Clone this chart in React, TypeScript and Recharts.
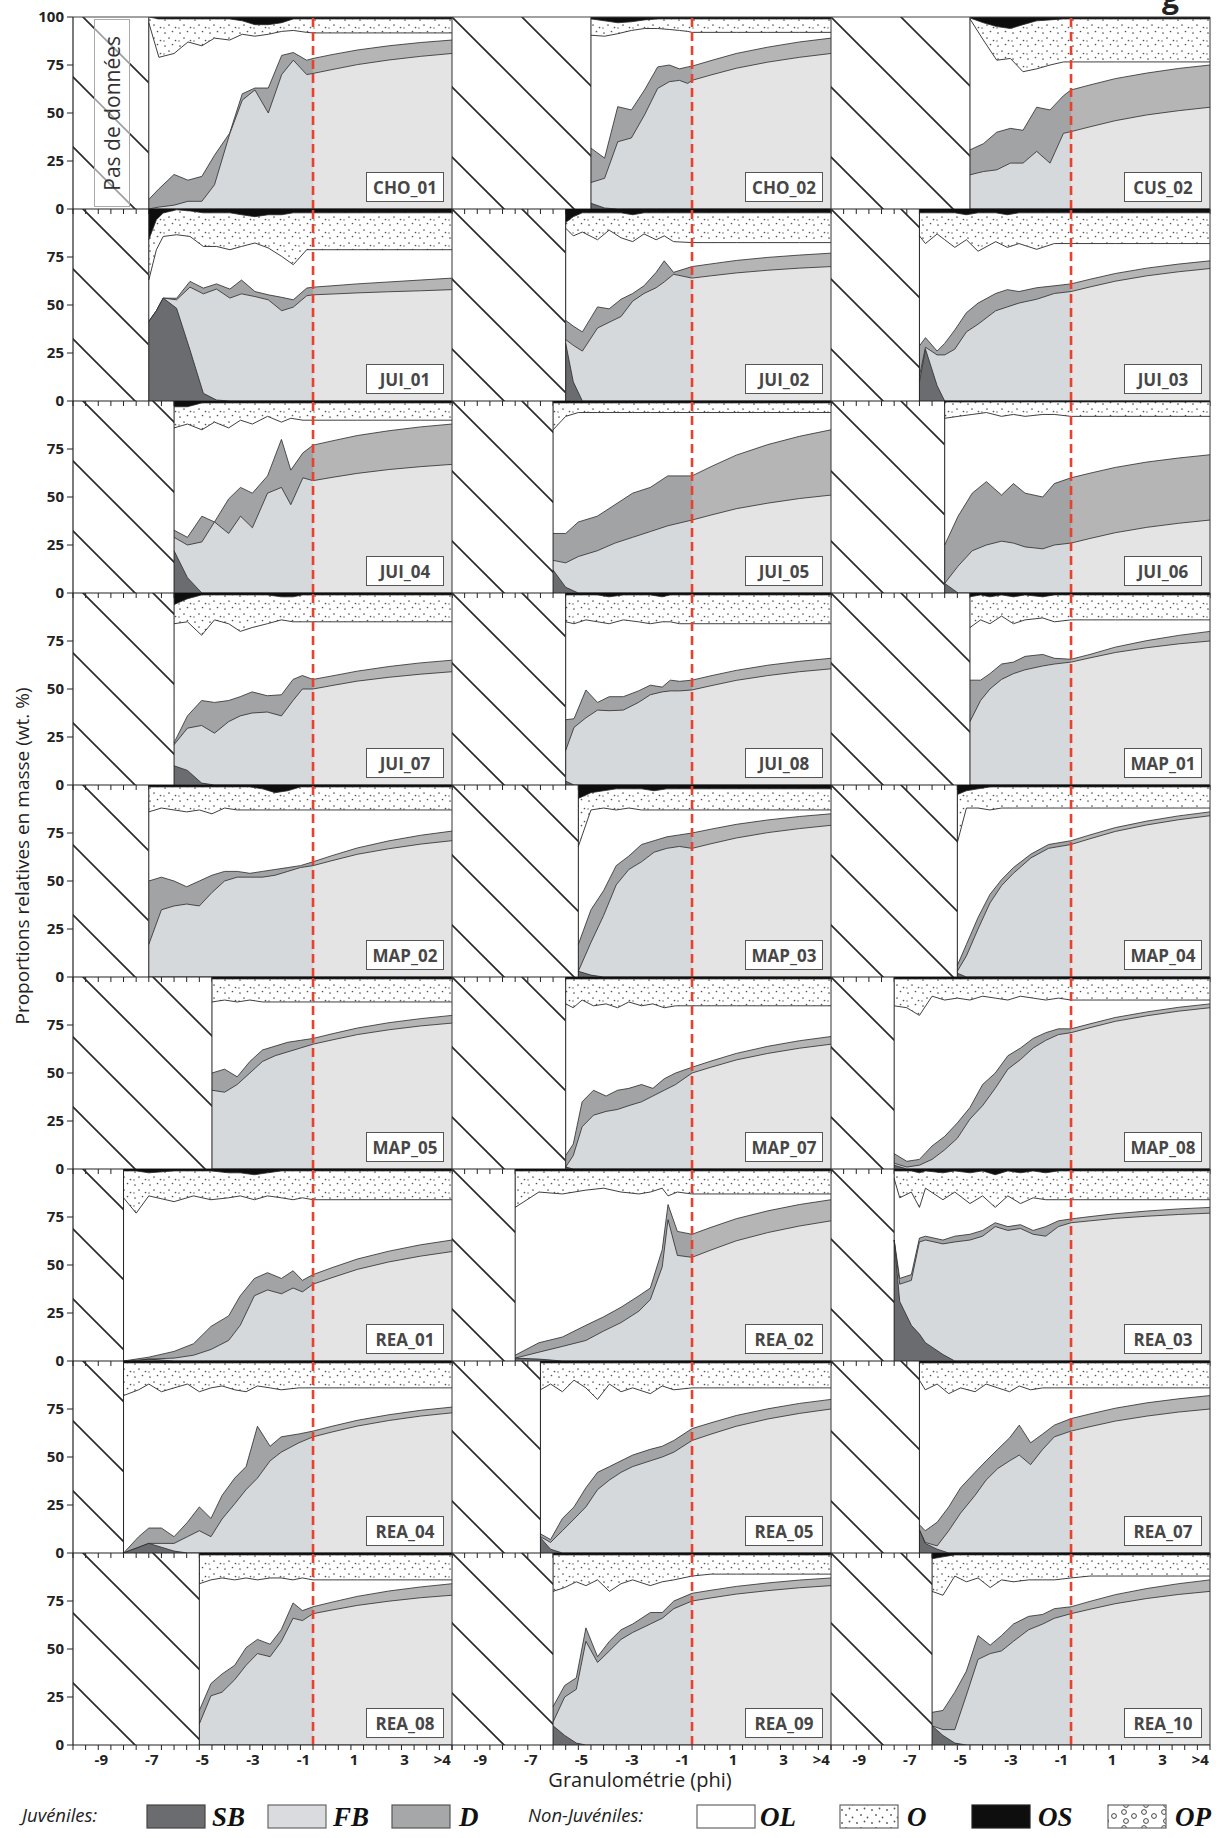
import React from 'react';
import { AreaChart, Area, XAxis, YAxis, ReferenceLine, ReferenceArea } from 'recharts';

type Row = [number, number, number, number, number, number];
// columns: phi, top of SB, top of FB, top of D, top of OL, top of O (OS fills to 100)

const CHO_01: Row[] = [
  [-7, 0, 0, 5, 97, 100], [-6.6, 0, 1, 10.5, 79, 99], [-6, 0, 2, 18, 81, 99], [-5.45, 0, 4, 15, 87, 99],
  [-4.9, 0, 4, 17, 85, 99], [-4.4, 0, 12.6, 28, 89, 99], [-3.8, 0, 39, 39.5, 88, 99], [-3.3, 0, 56.7, 60, 91, 98],
  [-2.8, 0, 62, 63, 90, 96], [-2.27, 0, 50, 63, 91, 96], [-1.74, 0, 70, 80, 92.5, 97], [-1.28, 0, 77.5, 81.5, 93, 99],
  [-0.75, 0, 70, 77.5, 92, 99], [-0.5, 0, 70.6, 78.4, 91.7, 99], [0.25, 0, 72.6, 80.4, 91.7, 99],
  [1.25, 0, 75.2, 82.8, 91.7, 99], [2.5, 0, 77.6, 85, 91.7, 99], [3.75, 0, 79.5, 86.7, 91.7, 99], [5, 0, 81, 88, 91.7, 99],
];
const CHO_02: Row[] = [
  [-4.5, 3, 13.8, 31.7, 90.5, 99], [-3.96, 0.5, 16, 26.5, 90, 98], [-3.44, 0, 35, 53.3, 91.3, 97], [-2.9, 0, 37, 51.6, 93, 97.5],
  [-2.38, 0, 49, 62, 94, 98.5], [-1.86, 0, 62.8, 74, 94, 99], [-1.4, 0, 66.3, 75, 93.5, 99], [-1.0, 0, 67, 73, 93, 99],
  [-0.67, 0, 65.4, 74, 92.5, 99], [-0.5, 0, 67, 74.4, 92, 99], [0.25, 0, 69.8, 77.3, 92, 99], [1.25, 0, 73.3, 81, 92, 99],
  [2.5, 0, 76.5, 84.3, 92, 99], [3.75, 0, 79, 87, 92, 99], [5, 0, 81, 89, 92, 99],
];
const CUS_02: Row[] = [
  [-4.5, 0, 17.8, 30.8, 99, 99.5], [-3.97, 0, 19.5, 34, 88, 97], [-3.44, 0, 20.4, 40, 77.5, 95], [-2.9, 0, 23.9, 42, 78.4, 94],
  [-2.4, 0, 23.9, 41, 71.5, 96], [-1.86, 0, 30, 53, 73, 98], [-1.33, 0, 23.9, 51.6, 75, 98.5], [-0.8, 0, 39.4, 59, 76.6, 99],
  [-0.5, 0, 40.3, 62, 76.6, 99], [0.25, 0, 42.8, 64.6, 76.6, 99], [1.25, 0, 46, 67.9, 76.6, 99], [2.5, 0, 49, 70.8, 76.6, 99],
  [3.75, 0, 51.2, 73.2, 76.6, 99], [5, 0, 53, 75, 76.6, 99],
];
const JUI_01: Row[] = [
  [-7, 41.4, 41.4, 41.4, 63, 84], [-6.7, 47, 47, 47, 78.8, 94.4], [-6.43, 53.6, 53.6, 53.6, 85.7, 97.9],
  [-5.9, 48.3, 52.7, 53.5, 86.6, 99.6], [-5.37, 26.6, 59.3, 62.3, 85.7, 99], [-4.84, 4, 55.8, 58.8, 80.5, 98],
  [-4.32, 0.5, 58.3, 61, 80.5, 98], [-3.79, 0, 53.6, 58.3, 78.8, 98], [-3.33, 0, 55.8, 63, 80.5, 97],
  [-2.8, 0, 54.4, 57, 82.3, 96], [-2.27, 0, 52.7, 55.3, 79.7, 97], [-1.74, 0, 47, 54, 75.3, 97], [-1.28, 0, 48.9, 52.7, 71, 98],
  [-0.75, 0, 54.8, 58.8, 78.8, 98], [-0.5, 0, 55.3, 59.3, 78.8, 98], [0.25, 0, 55.7, 60, 78.8, 98], [1.25, 0, 56.3, 61, 78.8, 98],
  [2.5, 0, 56.9, 62, 78.8, 98], [3.75, 0, 57.4, 63, 78.8, 98], [5, 0, 58, 64, 78.8, 98],
];
const JUI_02: Row[] = [
  [-5.5, 30, 32, 42, 90, 93], [-5.2, 10, 29, 39, 86, 96], [-4.84, 0, 26, 36, 88, 98], [-4.24, 0, 38, 49, 84, 98],
  [-3.78, 0, 41, 48, 89, 98], [-3.31, 0, 44, 53, 85, 98], [-2.85, 0, 52, 56, 83, 97], [-2.4, 0, 56, 60, 87, 98],
  [-1.92, 0, 59, 67, 84, 98], [-1.6, 0, 62, 73, 86, 98], [-1.23, 0, 66, 67, 83, 98], [-0.5, 0, 64, 70, 82.5, 98],
  [0.25, 0, 65.2, 71.4, 82.5, 98], [1.25, 0, 66.7, 73.2, 82.5, 98], [2.5, 0, 68.1, 74.8, 82.5, 98], [3.75, 0, 69.2, 76, 82.5, 98],
  [5, 0, 70, 77, 82.5, 98],
];
const JUI_03: Row[] = [
  [-6.5, 10, 13, 28.7, 86, 98], [-6.26, 27, 28, 33, 82, 98], [-5.8, 8, 24, 26, 87, 98], [-5.5, 0, 24, 30, 84, 98],
  [-5.1, 0, 27, 37, 80, 98], [-4.64, 0, 36, 46, 84, 97], [-4.18, 0, 40, 51, 78, 98], [-3.48, 0, 47, 56, 83, 98],
  [-3.02, 0, 49, 58, 80, 97], [-2.56, 0, 51, 57, 82, 98], [-1.86, 0, 53, 59, 79, 98], [-1.16, 0, 56, 60, 82, 98],
  [-0.5, 0, 57, 61, 82, 98], [0.25, 0, 59.4, 63.4, 82, 98], [1.25, 0, 62.4, 66.4, 82, 98], [2.5, 0, 65.2, 69.2, 82, 98],
  [3.75, 0, 67.3, 71.3, 82, 98], [5, 0, 69, 73, 82, 98],
];
const JUI_04: Row[] = [
  [-6, 22, 29, 32.7, 86, 97], [-5.47, 8, 25, 29, 88, 97], [-4.9, 0, 26.6, 40, 85, 99], [-4.4, 0, 37, 37, 89, 99],
  [-3.84, 0, 31, 49, 86, 99], [-3.37, 0, 40, 55, 90, 99], [-2.9, 0, 34, 52, 88, 99], [-2.3, 0, 52, 61, 92, 99],
  [-1.75, 0, 55, 80, 89, 99], [-1.38, 0, 46, 64, 91, 99], [-0.9, 0, 60, 73, 90, 99], [-0.5, 0, 58.5, 77, 90, 99],
  [0.25, 0, 60.2, 79.2, 90, 99], [1.25, 0, 62.3, 82, 90, 99], [2.5, 0, 64.3, 84.5, 90, 99], [3.75, 0, 65.8, 86.5, 90, 99],
  [5, 0, 67, 88, 90, 99],
];
const JUI_05: Row[] = [
  [-6, 12, 17, 31, 85, 99], [-5.5, 3, 15.7, 31, 92, 99], [-5, 0, 19, 37, 94, 99], [-4.25, 0, 22, 40, 94, 99],
  [-3.55, 0, 26, 46, 94, 99], [-2.85, 0, 29, 52, 94, 99], [-2.15, 0, 32, 55, 94, 99], [-1.46, 0, 35, 61, 94, 99],
  [-0.5, 0, 38, 61, 94, 99], [0.25, 0, 40.6, 65.8, 94, 99], [1.25, 0, 43.9, 71.8, 94, 99], [2.5, 0, 46.8, 77.3, 94, 99],
  [3.75, 0, 49.2, 81.6, 94, 99], [5, 0, 51, 85, 94, 99],
];
const JUI_06: Row[] = [
  [-5.5, 5, 5, 25, 91, 99.5], [-4.97, 0, 14, 40, 92, 99.5], [-4.41, 0, 22, 52, 93, 99.5], [-3.85, 0, 25, 58, 94, 99.5],
  [-3.25, 0, 27, 51, 92, 99.5], [-2.78, 0, 26, 57, 93, 99.5], [-2.32, 0, 24, 52, 92, 99.5], [-1.62, 0, 23, 50, 93, 99.5],
  [-1.16, 0, 25, 57, 93, 99.5], [-0.5, 0, 26, 60, 92, 99.5], [0.25, 0, 28.4, 62.4, 92, 99.5], [1.25, 0, 31.4, 65.4, 92, 99.5],
  [2.5, 0, 34.2, 68.2, 92, 99.5], [3.75, 0, 36.3, 70.3, 92, 99.5], [5, 0, 38, 72, 92, 99.5],
];
const JUI_07: Row[] = [
  [-6, 10, 21, 22, 84, 94], [-5.47, 7.6, 29.6, 36, 85, 97], [-4.91, 1, 31, 44, 78, 99], [-4.4, 0, 27, 43, 86, 99],
  [-3.84, 0, 33, 44, 84, 99], [-3.38, 0, 36, 46, 80, 99], [-2.91, 0, 37.5, 48.5, 82, 99], [-2.31, 0, 38, 46.5, 84, 99],
  [-1.75, 0, 36, 47, 86, 98], [-1.29, 0, 44, 55, 85, 98], [-0.92, 0, 50, 57, 85, 99], [-0.5, 0, 50, 55, 85, 99],
  [0.25, 0, 51.8, 56.8, 85, 99], [1.25, 0, 54.1, 59.3, 85, 99], [2.5, 0, 56.1, 61.7, 85, 99], [3.75, 0, 57.7, 63.6, 85, 99],
  [5, 0, 59, 65, 85, 99],
];
const JUI_08: Row[] = [
  [-5.5, 2, 18, 34, 85, 99], [-5.17, 0, 30, 34.5, 84, 99], [-4.7, 0, 35, 49.5, 86, 99], [-4.24, 0, 39, 43, 85, 99],
  [-3.78, 0, 38.7, 46, 84, 98], [-3.22, 0, 39, 46, 86, 99], [-2.62, 0, 43, 49, 85, 99], [-2.15, 0, 47, 52, 84, 99],
  [-1.68, 0, 48.5, 51, 85, 98], [-1.36, 0, 49, 54.6, 85, 99], [-0.99, 0, 49, 54, 84, 99], [-0.5, 0, 49.5, 54.6, 84, 99],
  [0.25, 0, 51.7, 56.9, 84, 99], [1.25, 0, 54.5, 59.7, 84, 99], [2.5, 0, 57, 62.4, 84, 99], [3.75, 0, 59, 64.4, 84, 99],
  [5, 0, 60.5, 66, 84, 99],
];
const MAP_01: Row[] = [
  [-4.5, 0, 33, 54.6, 82, 98], [-4.08, 0, 44, 54.6, 86, 99], [-3.71, 0, 50, 58, 84, 98], [-3.25, 0, 55, 63, 88, 99],
  [-2.78, 0, 58, 64, 84, 98], [-2.32, 0, 60, 67, 86, 99], [-1.62, 0, 62, 68, 87, 98], [-1.16, 0, 63, 66, 85, 99],
  [-0.5, 0, 64, 65.5, 86, 99], [0.25, 0, 66.2, 68, 86, 99], [1.25, 0, 69, 71.8, 86, 99], [2.5, 0, 71.5, 75.2, 86, 99],
  [3.75, 0, 73.5, 77.9, 86, 99], [5, 0, 75, 80, 86, 99],
];
const MAP_02: Row[] = [
  [-7, 0, 17, 50, 86, 99], [-6.5, 0, 35, 52, 88, 99], [-6, 0, 37, 50, 87, 99], [-5.5, 0, 38, 47, 86, 99],
  [-5, 0, 37, 50, 87, 99], [-4.5, 0, 44, 53, 85, 99], [-4, 0, 50, 55, 88, 99], [-3.5, 0, 52, 55, 87, 99],
  [-3, 0, 52, 54, 87, 99], [-2.5, 0, 52, 55, 87, 98], [-2, 0, 53, 56, 87, 96], [-1.5, 0, 55, 57, 87, 97],
  [-1, 0, 57, 58, 87, 99], [-0.5, 0, 58, 60, 87, 99], [0.25, 0, 60.6, 63.2, 87, 99], [1.25, 0, 63.9, 67.2, 87, 99],
  [2.5, 0, 66.8, 70.9, 87, 99], [3.75, 0, 69.2, 73.8, 87, 99], [5, 0, 71, 76, 87, 99],
];
const MAP_03: Row[] = [
  [-5, 3, 3, 17, 68, 93], [-4.5, 1, 18, 35, 87, 96], [-4, 0, 32, 45, 88, 97], [-3.5, 0, 48, 58, 87, 98],
  [-3, 0, 56, 63, 88, 98], [-2.5, 0, 60, 69, 87, 98], [-2, 0, 65, 71, 87, 97], [-1.5, 0, 67, 73, 87, 98],
  [-1, 0, 68, 74, 87, 98], [-0.5, 0, 67, 75, 87, 98], [0.25, 0, 69.4, 77, 87, 98], [1.25, 0, 72.4, 79.5, 87, 98],
  [2.5, 0, 75.2, 81.8, 87, 98], [3.75, 0, 77.3, 83.6, 87, 98], [5, 0, 79, 85, 87, 98],
];
const MAP_04: Row[] = [
  [-5, 2, 3, 6, 70, 95], [-4.64, 0, 11, 17, 88, 97], [-4.18, 0, 25, 31, 88, 98], [-3.71, 0, 38.5, 43, 87, 99],
  [-3.25, 0, 47.6, 50.7, 88, 99], [-2.78, 0, 54, 57, 88, 99], [-2.09, 0, 62, 64, 88, 99], [-1.39, 0, 67, 69, 88, 99],
  [-0.5, 0, 69, 71, 88, 99], [0.25, 0, 72, 74, 88, 99], [1.25, 0, 75.8, 77.8, 88, 99], [2.5, 0, 79.2, 81.2, 88, 99],
  [3.75, 0, 81.9, 83.9, 88, 99], [5, 0, 84, 86, 88, 99],
];
const MAP_05: Row[] = [
  [-4.5, 0, 41, 50, 87, 99], [-4, 0, 40, 52, 88, 99], [-3.5, 0, 44, 48, 87, 99], [-3, 0, 50, 56, 88, 99],
  [-2.5, 0, 56, 62, 87, 99], [-2, 0, 59, 64, 87, 99], [-1.5, 0, 61, 66, 87, 99], [-1, 0, 63, 67, 87, 99],
  [-0.5, 0, 65, 68, 87, 99], [0.25, 0, 67.2, 70.4, 87, 99], [1.25, 0, 70, 73.4, 87, 99], [2.5, 0, 72.5, 76.2, 87, 99],
  [3.75, 0, 74.5, 78.3, 87, 99], [5, 0, 76, 80, 87, 99],
];
const MAP_07: Row[] = [
  [-5.5, 1, 1, 7, 86, 99], [-5.2, 0, 7, 13, 84, 99], [-4.85, 0, 22, 35, 88, 99], [-4.4, 0, 28, 41, 85, 99],
  [-3.9, 0, 30, 38, 86, 99], [-3.45, 0, 31, 41, 84, 99], [-3, 0, 33, 42, 87, 99], [-2.5, 0, 35, 44, 85, 99],
  [-2.05, 0, 38, 42, 86, 99], [-1.6, 0, 41, 47, 84, 99], [-1.15, 0, 44, 50, 85, 99], [-0.5, 0, 50, 53, 85, 99],
  [0.25, 0, 53, 56.2, 85, 99], [1.25, 0, 56.8, 60.2, 85, 99], [2.5, 0, 60.2, 63.9, 85, 99], [3.75, 0, 62.9, 66.8, 85, 99],
  [5, 0, 65, 69, 85, 99],
];
const MAP_08: Row[] = [
  [-7.5, 2, 3, 8, 85, 99], [-7, 0, 1, 4, 84, 99], [-6.5, 0, 2, 5, 80, 99], [-6, 0, 5, 12, 90, 99],
  [-5.5, 0, 10, 17, 88, 99], [-5, 0, 16, 24, 89, 99], [-4.5, 0, 26, 32, 88, 99], [-4, 0, 33, 44, 90, 99],
  [-3.5, 0, 42, 50, 89, 99], [-3, 0, 52, 59, 88, 99], [-2.5, 0, 57, 63, 90, 99], [-2, 0, 63, 68, 89, 99],
  [-1.5, 0, 67, 71, 88, 99], [-1, 0, 70, 73, 89, 99], [-0.5, 0, 71, 73, 88, 99], [0.25, 0, 73.6, 75.6, 88, 99],
  [1.25, 0, 76.9, 78.9, 88, 99], [2.5, 0, 79.8, 81.8, 88, 99], [3.75, 0, 82.2, 84.2, 88, 99], [5, 0, 84, 86, 88, 99],
];
const REA_01: Row[] = [
  [-8, 0, 0, 0, 85, 99], [-7.5, 0, 0.3, 1, 77, 99], [-7, 1, 1, 2, 86, 98], [-6, 0, 1.5, 5, 83, 99],
  [-5.23, 0, 3, 9, 86, 99], [-4.54, 0, 6, 18, 84, 99], [-3.84, 0, 10.7, 23.5, 85, 98], [-3.38, 0, 18.6, 34, 86, 98],
  [-2.82, 0, 34, 43, 84, 97], [-2.3, 0, 37, 46, 86, 98], [-1.75, 0, 35, 43, 85, 99], [-1.29, 0, 38, 47, 84, 99],
  [-0.92, 0, 36, 42, 85, 99], [-0.5, 0, 40, 45, 84, 99], [0.25, 0, 43.4, 48.6, 84, 99], [1.25, 0, 47.7, 53.1, 84, 99],
  [2.5, 0, 51.6, 57.2, 84, 99], [3.75, 0, 54.6, 60.5, 84, 99], [5, 0, 57, 63, 84, 99],
];
const REA_02: Row[] = [
  [-7.5, 1.5, 1.5, 3, 80, 99], [-6.56, 1, 4.6, 9.5, 88, 99], [-5.63, 0, 7.6, 12.5, 87, 99], [-4.7, 0, 10.7, 18.6, 89, 99],
  [-4, 0, 15.6, 23, 90, 99], [-3.31, 0, 20, 28, 88, 99], [-2.6, 0, 26, 34, 87, 99], [-2.15, 0, 32, 38, 88, 99],
  [-1.68, 0, 49, 58, 90, 99], [-1.45, 0, 73.6, 81.5, 86, 99], [-1.08, 0, 55, 67.5, 88, 99], [-0.5, 0, 54, 66, 87, 99],
  [0.25, 0, 57.8, 69.6, 87, 99], [1.25, 0, 62.6, 74.1, 87, 99], [2.5, 0, 66.9, 78.2, 87, 99], [3.75, 0, 70.3, 81.5, 87, 99],
  [5, 0, 73, 84, 87, 99],
];
const REA_03: Row[] = [
  [-7.5, 63, 63, 63, 95, 99], [-7.28, 31, 40, 43, 85, 99], [-6.82, 18.6, 42, 45, 88, 99], [-6.5, 14, 62, 64, 80, 98],
  [-6.26, 9.5, 63, 65, 90, 99], [-5.57, 3.4, 61, 63, 84, 98], [-5.1, 0, 62, 65, 88, 99], [-4.5, 0, 63, 66, 82, 98],
  [-4, 0, 65, 68, 86, 99], [-3.5, 0, 70, 72, 80, 97], [-3, 0, 68, 70, 86, 99], [-2.5, 0, 69, 71, 82, 98],
  [-2, 0, 66, 68, 85, 99], [-1.5, 0, 65, 70, 84, 98], [-1, 0, 70, 73, 84, 99], [-0.5, 0, 72, 74, 84, 99],
  [0.25, 0, 73, 75.2, 84, 99], [1.25, 0, 74.3, 76.7, 84, 99], [2.5, 0, 75.4, 78.1, 84, 99], [3.75, 0, 76.3, 79.2, 84, 99],
  [5, 0, 77, 80, 84, 99],
];
const REA_04: Row[] = [
  [-8, 0, 0, 0, 82, 99], [-7.4, 3, 3, 8.5, 85, 99], [-7, 5, 5, 13, 88, 99], [-6.5, 3, 5, 13, 84, 99],
  [-6, 1, 5, 8.5, 86, 99], [-5.47, 0, 8.5, 16, 88, 99], [-5, 0, 11.6, 24, 84, 99], [-4.54, 0, 8.5, 18, 86, 99],
  [-4.1, 0, 17.7, 30, 87, 99], [-3.6, 0, 25.6, 39, 85, 99], [-3.15, 0, 33, 45, 84, 99], [-2.7, 0, 39, 66, 87, 99],
  [-2.2, 0, 48, 55.6, 86, 99], [-1.76, 0, 52.5, 60.5, 85, 99], [-1.06, 0, 57.4, 62, 86, 99], [-0.5, 0, 60.5, 63.5, 86, 99],
  [0.25, 0, 63, 66, 86, 99], [1.25, 0, 66.1, 69.1, 86, 99], [2.5, 0, 69, 72, 86, 99], [3.75, 0, 71.3, 74.3, 86, 99],
  [5, 0, 73, 76, 86, 99],
];
const REA_05: Row[] = [
  [-6.5, 8, 8.5, 10, 85, 99], [-6.1, 2, 5.5, 7, 88, 99], [-5.63, 0, 11.6, 18, 84, 99], [-5.17, 0, 17.7, 24, 90, 99],
  [-4.7, 0, 24, 34, 86, 99], [-4.24, 0, 33, 42, 80, 99], [-3.77, 0, 38, 45, 88, 99], [-3.31, 0, 42, 48, 84, 99],
  [-2.85, 0, 45, 51, 86, 99], [-2.15, 0, 48, 54, 83, 99], [-1.68, 0, 50, 55.6, 87, 99], [-1.22, 0, 52.5, 58.6, 85, 99],
  [-0.5, 0, 58.6, 64.8, 86, 99], [0.25, 0, 61.9, 67.8, 86, 99], [1.25, 0, 66, 71.6, 86, 99], [2.5, 0, 69.8, 75.1, 86, 99],
  [3.75, 0, 72.7, 77.9, 86, 99], [5, 0, 75, 80, 86, 99],
];
const REA_07: Row[] = [
  [-6.5, 12, 12, 14.7, 90, 99], [-6.27, 5, 5.5, 11.6, 85, 99], [-5.8, 2, 3.7, 16, 88, 99], [-5.34, 0, 11.6, 24, 83, 99],
  [-4.87, 0, 20.8, 34, 86, 99], [-4.3, 0, 30, 42, 84, 99], [-3.86, 0, 38, 48, 88, 99], [-3.4, 0, 44, 54, 86, 99],
  [-2.93, 0, 48, 60, 84, 99], [-2.55, 0, 51, 66.6, 87, 99], [-2.1, 0, 46, 57.4, 85, 99], [-1.62, 0, 54, 62, 86, 99],
  [-1.16, 0, 60.5, 66.6, 86, 99], [-0.5, 0, 63.5, 70, 86, 99], [0.25, 0, 65.8, 72.4, 86, 99], [1.25, 0, 68.7, 75.4, 86, 99],
  [2.5, 0, 71.3, 78.2, 86, 99], [3.75, 0, 73.4, 80.3, 86, 99], [5, 0, 75, 82, 86, 99],
];
const REA_08: Row[] = [
  [-5, 0, 11, 18, 84, 99], [-4.54, 0, 25.6, 32, 86, 99], [-4.1, 0, 27.5, 37, 87, 99], [-3.6, 0, 34, 41.5, 86, 99],
  [-3.15, 0, 41.5, 50.7, 87, 99], [-2.7, 0, 47.6, 55, 86, 99], [-2.2, 0, 46, 52.5, 87, 99], [-1.76, 0, 53.8, 60, 87, 99],
  [-1.29, 0, 66, 74, 86, 99], [-0.92, 0, 64.8, 70, 87, 99], [-0.5, 0, 68.4, 72, 86, 99], [0.25, 0, 70.3, 74.4, 86, 99],
  [1.25, 0, 72.7, 77.4, 86, 99], [2.5, 0, 74.9, 80.2, 86, 99], [3.75, 0, 76.7, 82.3, 86, 99], [5, 0, 78, 84, 86, 99],
];
const REA_09: Row[] = [
  [-6, 10, 12, 20, 80, 99], [-5.54, 5, 25, 31, 82, 99], [-5.08, 1, 29, 35, 85, 99], [-4.7, 0, 54, 61, 83, 99],
  [-4.24, 0, 43, 46, 86, 99], [-3.77, 0, 49, 54, 80, 99], [-3.31, 0, 55, 60, 84, 99], [-2.85, 0, 58.6, 63, 86, 99],
  [-2.15, 0, 63, 69, 83, 99], [-1.68, 0, 66, 69, 85, 99], [-1.22, 0, 71, 75, 86, 99], [-0.5, 0, 75, 79, 88, 99],
  [0.25, 0, 76.6, 80.6, 89, 99], [1.25, 0, 78.6, 82.6, 89, 99], [2.5, 0, 80.4, 84.4, 89, 99], [3.75, 0, 81.9, 85.9, 89, 99],
  [5, 0, 83, 87, 89, 99],
];
const REA_10: Row[] = [
  [-6, 10, 10, 17, 80, 97], [-5.57, 5, 8, 18, 78, 98], [-5.1, 1, 8, 27.5, 88, 99], [-4.64, 0, 26, 38.5, 85, 99],
  [-4.18, 0, 44.6, 57, 87, 99], [-3.7, 0, 47.6, 52, 82, 99], [-3.25, 0, 49, 57, 86, 99], [-2.78, 0, 54, 63, 85, 99],
  [-2.18, 0, 60, 67, 86, 99], [-1.62, 0, 63, 68, 86, 99], [-1.16, 0, 66, 71, 86, 99], [-0.5, 0, 68.4, 72, 87, 99],
  [0.25, 0, 70.7, 74.8, 88, 99], [1.25, 0, 73.6, 78.3, 88, 99], [2.5, 0, 76.3, 81.5, 88, 99], [3.75, 0, 78.4, 84, 88, 99],
  [5, 0, 80, 86, 88, 99],
];

const PANELS: [string, Row[]][] = [
  ['CHO_01', CHO_01], ['CHO_02', CHO_02], ['CUS_02', CUS_02],
  ['JUI_01', JUI_01], ['JUI_02', JUI_02], ['JUI_03', JUI_03],
  ['JUI_04', JUI_04], ['JUI_05', JUI_05], ['JUI_06', JUI_06],
  ['JUI_07', JUI_07], ['JUI_08', JUI_08], ['MAP_01', MAP_01],
  ['MAP_02', MAP_02], ['MAP_03', MAP_03], ['MAP_04', MAP_04],
  ['MAP_05', MAP_05], ['MAP_07', MAP_07], ['MAP_08', MAP_08],
  ['REA_01', REA_01], ['REA_02', REA_02], ['REA_03', REA_03],
  ['REA_04', REA_04], ['REA_05', REA_05], ['REA_07', REA_07],
  ['REA_08', REA_08], ['REA_09', REA_09], ['REA_10', REA_10],
];

const X_TICKS = [-10, -9.5, -9, -8.5, -8, -7.5, -7, -6.5, -6, -5.5, -5, -4.5, -4, -3.5, -3, -2.5, -2, -1.5, -1, -0.5,
  0, 0.5, 1, 1.5, 2, 2.5, 3, 3.5, 4, 4.5, 5];
const X_LABELS: Record<string, string> = { '-9': '-9', '-7': '-7', '-5': '-5', '-3': '-3', '-1': '-1', '1': '1', '3': '3', '4.5': '>4' };
const Y_TICKS_TOP = [0, 25, 50, 75, 100];
const Y_TICKS = [0, 25, 50, 75];
const RED_PHI = -0.5;
const X_MIN = -10;
const X_MAX = 5;

const COL_X = [73, 452, 831];
const PW = 379;
const PH = 192;
const ROW_Y0 = 17;
const FONT = '"Open Sans", "DejaVu Sans", sans-serif';

const C_SB = '#6b6c6f';
const C_FB_L = '#d6d9dc';
const C_FB_R = '#e4e4e4';
const C_D_L = '#a2a3a5';
const C_D_R = '#b5b5b5';
const C_OS = '#0e0e0e';
const LINE = '#2a2a2a';

const NoTick = () => <g />;
const XTick = (props: any) => {
  const { x, y, payload } = props;
  const lab = X_LABELS[String(payload.value)];
  if (!lab) return <g />;
  return (
    <text x={x + 3} y={y} dy="0.75em" textAnchor="middle" fontSize={15} fontWeight={700} fill="#222" fontFamily={FONT}>
      {lab}
    </text>
  );
};

function Patterns({ id, w, off }: { id: string; w: number; off: number }) {
  return (
    <defs>
      <pattern id={`hatch-${id}`} width={70} height={70} patternUnits="userSpaceOnUse">
        <line x1={0} y1={0} x2={70} y2={70} stroke="#2b2b2b" strokeWidth={1.7} />
        <line x1={60} y1={-10} x2={80} y2={10} stroke="#2b2b2b" strokeWidth={1.7} />
        <line x1={-10} y1={60} x2={10} y2={80} stroke="#2b2b2b" strokeWidth={1.7} />
      </pattern>
      <pattern id={`dots-${id}`} width={15} height={13} patternUnits="userSpaceOnUse">
        <rect width={15} height={13} fill="#fff" />
        <circle cx={2} cy={3} r={0.85} fill="#555" />
        <circle cx={9.5} cy={1.5} r={0.85} fill="#555" />
        <circle cx={6} cy={8} r={0.85} fill="#555" />
        <circle cx={12.5} cy={10.5} r={0.85} fill="#555" />
        <circle cx={1} cy={11} r={0.7} fill="#555" />
      </pattern>
      <linearGradient id={`fb-${id}`} gradientUnits="userSpaceOnUse" x1={0} y1={0} x2={w} y2={0}>
        <stop offset={0} stopColor={C_FB_L} />
        <stop offset={off} stopColor={C_FB_L} />
        <stop offset={off} stopColor={C_FB_R} />
        <stop offset={1} stopColor={C_FB_R} />
      </linearGradient>
      <linearGradient id={`d-${id}`} gradientUnits="userSpaceOnUse" x1={0} y1={0} x2={w} y2={0}>
        <stop offset={0} stopColor={C_D_L} />
        <stop offset={off} stopColor={C_D_L} />
        <stop offset={off} stopColor={C_D_R} />
        <stop offset={1} stopColor={C_D_R} />
      </linearGradient>
    </defs>
  );
}

function Panel({ name, rows, col, row }: { name: string; rows: Row[]; col: number; row: number }) {
  const isLeft = col === 0;
  const isBottom = row === 8;
  const yW = isLeft ? 60 : 0;
  const xH = isBottom ? 34 : 6;
  const w = PW + yW;
  const h = PH + xH;
  const data = rows.map((r) => ({ x: r[0], sb: r[1], fb: r[2], d: r[3], ol: r[4], o: r[5], os: 100 }));
  const start = rows[0][0];
  const redPx = yW + ((RED_PHI - X_MIN) / (X_MAX - X_MIN)) * PW;
  const off = redPx / w;
  const id = name;
  const areaCommon = {
    yAxisId: 'l',
    type: 'linear' as const,
    isAnimationActive: false,
    dot: false,
    activeDot: false,
    baseValue: 0,
    fillOpacity: 1,
  };
  return (
    <div style={{ position: 'absolute', left: COL_X[col] - yW, top: ROW_Y0 + row * PH, width: w, height: h }}>
      <AreaChart width={w} height={h} data={data} margin={{ top: 0, right: 0, bottom: 0, left: 0 }}>
        <Patterns id={id} w={w} off={off} />
        <XAxis
          dataKey="x"
          type="number"
          domain={[X_MIN, X_MAX]}
          ticks={X_TICKS}
          interval={0}
          tickSize={5}
          tickMargin={4}
          height={xH}
          tick={isBottom ? XTick : NoTick}
          axisLine={{ stroke: '#222', strokeWidth: 1.2 }}
          tickLine={{ stroke: '#222' }}
          allowDataOverflow
        />
        <YAxis
          yAxisId="l"
          hide={!isLeft}
          width={yW}
          domain={[0, 100]}
          ticks={row === 0 ? Y_TICKS_TOP : Y_TICKS}
          interval={0}
          tickSize={6}
          tickMargin={3}
          tick={{ fontSize: 15, fontWeight: 700, fill: '#222', fontFamily: FONT }}
          axisLine={{ stroke: '#222', strokeWidth: 1.2 }}
          tickLine={{ stroke: '#222' }}
          allowDataOverflow
        />
        <YAxis
          yAxisId="r"
          orientation="right"
          mirror
          domain={[0, 100]}
          ticks={[25, 50, 75]}
          interval={0}
          tickSize={5}
          tick={NoTick}
          axisLine={{ stroke: '#333', strokeWidth: 1 }}
          tickLine={{ stroke: '#333' }}
        />
        <ReferenceArea yAxisId="l" x1={X_MIN} x2={start} y1={0} y2={100} fill={`url(#hatch-${id})`} fillOpacity={1} stroke="none" />
        <Area {...areaCommon} dataKey="os" fill={C_OS} stroke="none" />
        <Area {...areaCommon} dataKey="o" fill={`url(#dots-${id})`} stroke={LINE} strokeWidth={0.8} />
        <Area {...areaCommon} dataKey="ol" fill="#ffffff" stroke={LINE} strokeWidth={0.9} />
        <Area {...areaCommon} dataKey="d" fill={`url(#d-${id})`} stroke={LINE} strokeWidth={0.8} />
        <Area {...areaCommon} dataKey="fb" fill={`url(#fb-${id})`} stroke={LINE} strokeWidth={0.8} />
        <Area {...areaCommon} dataKey="sb" fill={C_SB} stroke={LINE} strokeWidth={0.8} />
        <ReferenceLine yAxisId="l" x={start} stroke="#222" strokeWidth={1} />
        <ReferenceLine yAxisId="l" x={RED_PHI} stroke="#e8412c" strokeWidth={2.6} strokeDasharray="9 5" />
        {row === 0 && <ReferenceLine yAxisId="l" y={100} stroke="#444" strokeWidth={1.2} />}
      </AreaChart>
      {name === 'CHO_01' && (
        <div
          style={{
            position: 'absolute', left: yW + 21, top: 2, width: 36, height: 188, boxSizing: 'border-box',
            border: '1px solid #aaa', background: 'rgba(255,255,255,0.55)', display: 'flex',
            alignItems: 'center', justifyContent: 'center',
          }}
        >
          <span style={{ writingMode: 'vertical-rl', transform: 'rotate(180deg)', fontFamily: FONT, fontSize: 21, color: '#333', whiteSpace: 'nowrap' }}>
            Pas de données
          </span>
        </div>
      )}
      <div
        style={{
          position: 'absolute', left: yW + PW - 8 - 78, top: PH - 7 - 30, width: 78, height: 30, boxSizing: 'border-box',
          border: '1.5px solid #555', background: '#fff', display: 'flex', alignItems: 'center', justifyContent: 'center',
          fontFamily: FONT, fontWeight: 700, fontSize: 17, color: '#474747',
        }}
      >
        {name}
      </div>
    </div>
  );
}

function Overlay() {
  const ly = 1790;
  const sw = (x: number, fill: string, stroke: string) => (
    <rect x={x} y={ly + 15} width={58} height={23} fill={fill} stroke={stroke} strokeWidth={1.2} />
  );
  const lab = (x: number, t: string) => (
    <text x={x} y={ly + 36} fontFamily='"Liberation Serif", serif' fontStyle="italic" fontWeight={700} fontSize={27} fill="#111">{t}</text>
  );
  return (
    <svg width={1223} height={1838} style={{ position: 'absolute', left: 0, top: 0 }}>
      <defs>
        <pattern id="lg-dots" width={15} height={13} patternUnits="userSpaceOnUse">
          <rect width={15} height={13} fill="#fff" />
          <circle cx={2} cy={3} r={0.9} fill="#555" />
          <circle cx={9.5} cy={1.5} r={0.9} fill="#555" />
          <circle cx={6} cy={8} r={0.9} fill="#555" />
          <circle cx={12.5} cy={10.5} r={0.9} fill="#555" />
        </pattern>
        <pattern id="lg-circ" width={20} height={16} patternUnits="userSpaceOnUse">
          <rect width={20} height={16} fill="#fff" />
          <circle cx={4} cy={4} r={2.4} fill="none" stroke="#444" strokeWidth={1} />
          <circle cx={14} cy={8} r={2.4} fill="none" stroke="#444" strokeWidth={1} />
          <circle cx={6} cy={13} r={2.4} fill="none" stroke="#444" strokeWidth={1} />
        </pattern>
      </defs>
      <text x={1162} y={8} fontFamily={FONT} fontWeight={700} fontSize={30} fill="#222">g</text>
      <text
        transform="translate(22,856) rotate(-90)"
        textAnchor="middle"
        dominantBaseline="central"
        fontFamily={FONT}
        fontSize={19}
        fill="#222"
      >
        Proportions relatives en masse (wt. %)
      </text>
      <text x={640} y={1787} textAnchor="middle" fontFamily={FONT} fontSize={20} fill="#222">Granulométrie (phi)</text>
      <text x={22} y={ly + 32} fontFamily={FONT} fontStyle="italic" fontSize={18.5} fill="#222">Juvéniles:</text>
      {sw(147, C_SB, '#444')}
      {lab(212, 'SB')}
      {sw(268, '#d9dbde', '#666')}
      {lab(333, 'FB')}
      {sw(392, '#a6a7a9', '#555')}
      {lab(459, 'D')}
      <text x={528} y={ly + 32} fontFamily={FONT} fontStyle="italic" fontSize={18.5} fill="#222">Non-Juvéniles:</text>
      {sw(697, '#fff', '#666')}
      {lab(760, 'OL')}
      {sw(840, 'url(#lg-dots)', '#666')}
      {lab(907, 'O')}
      {sw(972, C_OS, '#222')}
      {lab(1038, 'OS')}
      {sw(1108, 'url(#lg-circ)', '#666')}
      {lab(1175, 'OP')}
    </svg>
  );
}

export default function App() {
  return (
    <div style={{ position: 'absolute', left: 0, top: 0, width: 1223, height: 1838, background: '#fff', fontFamily: FONT }}>
      <style>{`.recharts-surface{overflow:visible}`}</style>
      <Overlay />
      {PANELS.map(([name, rows], i) => (
        <Panel key={name} name={name} rows={rows} col={i % 3} row={Math.floor(i / 3)} />
      ))}
    </div>
  );
}
